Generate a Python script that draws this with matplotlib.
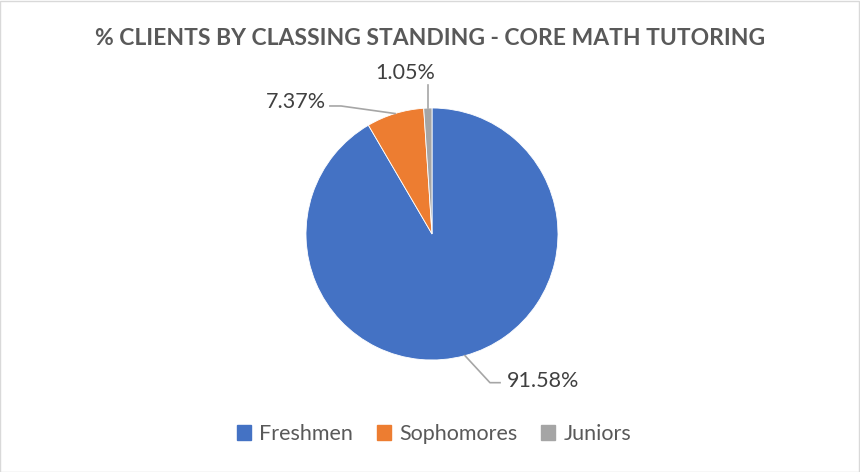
import numpy as np
import matplotlib
matplotlib.use("Agg")
import matplotlib.pyplot as plt
from matplotlib.patches import Rectangle

categories = ["Freshmen", "Sophomores", "Juniors"]
values = [91.58, 7.37, 1.05]
labels = ["91.58%", "7.37%", "1.05%"]
colors = ["#4472C4", "#ED7D31", "#A5A5A5"]

plt.rcParams['font.family'] = ['Lato', 'DejaVu Sans']
txt = "#404040"
lead = "#A6A6A6"

fig = plt.figure(figsize=(8.6, 4.72), dpi=100)
fig.patches.append(Rectangle((0.0005, 0.001), 0.998, 0.997, transform=fig.transFigure,
                             fill=False, edgecolor="#D9D9D9", linewidth=1))
ax = fig.add_axes([(432 - 126) / 860, (472 - 360) / 472, 252 / 860, 252 / 472])
wedges, _ = ax.pie(values, colors=colors, startangle=90, counterclock=False,
                   radius=1, wedgeprops=dict(edgecolor="white", linewidth=0.6))
ax.set_xlim(-1, 1)
ax.set_ylim(-1, 1)
ax.set_aspect("equal")
ax.axis("off")

def edge(w):
    a = np.deg2rad((w.theta1 + w.theta2) / 2)
    return np.cos(a), np.sin(a)

# Freshmen
ex, ey = edge(wedges[0])
ax.plot([ex, 0.46, 0.54], [ey, -1.18, -1.18], color=lead, lw=1.2, clip_on=False)
ax.text(0.595, -1.165, labels[0], ha="left", va="center", fontsize=15.5, color=txt)
# Sophomores
ex, ey = edge(wedges[1])
ax.plot([ex, -0.722, -0.81], [ey, 1.016, 1.016], color=lead, lw=1.2, clip_on=False)
ax.text(-0.84, 1.05, labels[1], ha="right", va="center", fontsize=15.5, color=txt)
# Juniors
ex, ey = edge(wedges[2])
ax.plot([ex, ex], [ey, 1.18], color=lead, lw=1.2, clip_on=False)
ax.text(-0.214, 1.275, labels[2], ha="center", va="center", fontsize=15.5, color=txt)

fig.text(0.5, 0.918, "% CLIENTS BY CLASSING STANDING - CORE MATH TUTORING",
         ha="center", va="center", fontsize=16.5, fontweight="bold", color="#595959")

handles = [Rectangle((0, 0), 1, 1, color=c) for c in colors]
fig.legend(handles, categories, loc="center", bbox_to_anchor=(0.505, 0.08), ncol=3,
           frameon=False, fontsize=15.5, handlelength=0.65, handleheight=0.65,
           handletextpad=0.4, columnspacing=1.1, labelcolor="#595959")

fig.savefig("out.png", dpi=100)
